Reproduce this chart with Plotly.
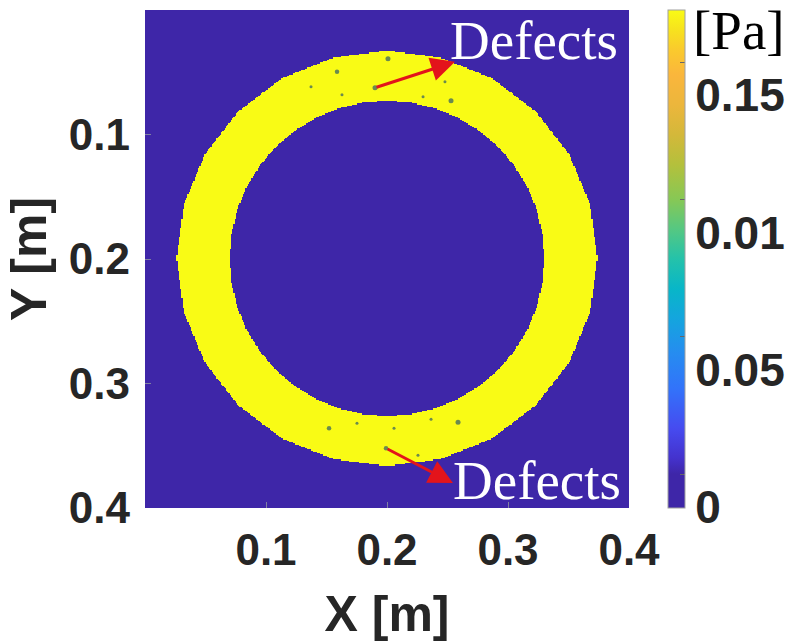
import numpy as np
import plotly.graph_objects as go

# Axis ticks
X_TICKS = [0.1, 0.2, 0.3, 0.4]
Y_TICKS = [0.1, 0.2, 0.3, 0.4]

# Colour bar ticks and their printed labels
CBAR_TICKVALS = [0, 0.05, 0.1, 0.15]
CBAR_TICKTEXT = ["0", "0.05", "0.01", "0.15"]
CBAR_MIN, CBAR_MAX = -0.0124, 0.1692

# Pressure field: annular region between two faceted ellipses
RING_CENTER = (0.2, 0.1995)
OUTER_RADII = (0.1735, 0.1665)
INNER_RADII = (0.1300, 0.1265)
OUTER_SIDES, INNER_SIDES = 24, 40
RING_PRESSURE = 0.1692
BACKGROUND_PRESSURE = 0.0

# Defect locations [m] and marker sizes
DEFECT_X = [0.2008, 0.1587, 0.1372, 0.1628, 0.1901, 0.2298, 0.2479, 0.2529,
            0.1521, 0.1752, 0.2058, 0.2364, 0.2587, 0.1992, 0.2256]
DEFECT_Y = [0.0392, 0.0496, 0.0616, 0.0680, 0.0624, 0.0696, 0.0576, 0.0728,
            0.3360, 0.3320, 0.3360, 0.3288, 0.3312, 0.3520, 0.3576]
DEFECT_SIZE = [5, 4.5, 3, 3, 5, 3, 3, 5,
               4.5, 3, 3, 3, 5, 4.5, 3]

# Callout arrows (tail at a defect, head near the label)
ARROW_TAIL = [(0.1901, 0.0624), (0.1992, 0.3520)]
ARROW_HEAD = [(0.2562, 0.0416), (0.2545, 0.3800)]
LABEL_POS = [(0.2505, 0.0245), (0.2525, 0.3780)]
LABEL_TEXT = "Defects"

# Parula-like colour map (flat dark band below zero pressure)
PARULA = [
    (0.000, "rgb(62,38,168)"), (0.068, "rgb(62,38,168)"),
    (0.100, "rgb(68,50,205)"), (0.160, "rgb(70,75,240)"),
    (0.240, "rgb(50,115,250)"), (0.310, "rgb(38,140,240)"),
    (0.380, "rgb(20,165,222)"), (0.440, "rgb(8,182,200)"),
    (0.500, "rgb(36,194,170)"), (0.560, "rgb(85,200,130)"),
    (0.620, "rgb(135,200,85)"), (0.690, "rgb(180,192,60)"),
    (0.750, "rgb(212,184,58)"), (0.810, "rgb(236,182,60)"),
    (0.870, "rgb(250,182,60)"), (0.920, "rgb(250,202,45)"),
    (0.960, "rgb(247,226,30)"), (1.000, "rgb(249,251,21)"),
]


def faceted_radius(dx, dy, radii, sides):
    """Normalised radius of a point relative to a regular polygon inscribed in an ellipse."""
    u, v = dx / radii[0], dy / radii[1]
    rho = np.hypot(u, v)
    theta = np.mod(np.arctan2(v, u) + np.pi / 2, 2 * np.pi / sides) - np.pi / sides
    return rho * np.cos(theta) / np.cos(np.pi / sides) * np.cos(np.pi / sides / 2)


step = 0.001
grid = np.arange(step / 2, 0.4, step)
gx, gy = np.meshgrid(grid, grid)
dx, dy = gx - RING_CENTER[0], gy - RING_CENTER[1]
r_out = faceted_radius(dx, dy, OUTER_RADII, OUTER_SIDES)
r_in = faceted_radius(dx, dy, INNER_RADII, INNER_SIDES)
pressure = np.where((r_out <= 1.0) & (r_in >= 1.0), RING_PRESSURE, BACKGROUND_PRESSURE)

tick_font = dict(family="Liberation Sans", size=44, color="#262626", weight="bold")
title_font = dict(family="Liberation Sans", size=50, color="#262626", weight="bold")

fig = go.Figure()
fig.add_trace(go.Heatmap(
    x=np.round(grid, 4), y=np.round(grid, 4), z=np.round(pressure, 4),
    colorscale=PARULA, zmin=CBAR_MIN, zmax=CBAR_MAX, zsmooth=False,
    hoverinfo="skip",
    colorbar=dict(
        x=1.0806, xanchor="left", xpad=0, y=0, yanchor="bottom", ypad=0,
        len=1, lenmode="fraction", thickness=17,
        outlinewidth=1, outlinecolor="#a0a0a0",
        ticks="inside", ticklen=5, tickcolor="#666666",
        tickvals=CBAR_TICKVALS, ticktext=CBAR_TICKTEXT,
        ticklabelposition="outside bottom",
        tickfont=dict(family="Liberation Sans", size=46, color="#262626", weight="bold"),
    ),
))
fig.add_trace(go.Scatter(
    x=DEFECT_X, y=DEFECT_Y, mode="markers",
    marker=dict(size=DEFECT_SIZE, color="#2d5a68", line=dict(width=0)),
    hoverinfo="skip", showlegend=False,
))

for (tx, ty), (hx, hy) in zip(ARROW_TAIL, ARROW_HEAD):
    fig.add_annotation(
        x=hx, y=hy, ax=tx, ay=ty, xref="x", yref="y", axref="x", ayref="y",
        text="", showarrow=True, arrowhead=2, arrowsize=1.6, arrowwidth=3,
        arrowcolor="#e3141b", standoff=0, startstandoff=0,
    )
for lx, ly in LABEL_POS:
    fig.add_annotation(
        x=lx, y=ly, xref="x", yref="y", text=LABEL_TEXT, showarrow=False,
        xanchor="left", yanchor="middle",
        font=dict(family="Liberation Serif", size=55, color="white"),
    )
fig.add_annotation(
    x=1.128, y=1, xref="paper", yref="paper", text="[Pa]", showarrow=False,
    xanchor="left", yanchor="top", yshift=12,
    font=dict(family="Liberation Serif", size=55, color="black"),
)

fig.update_xaxes(
    range=[0, 0.4], tickvals=X_TICKS, ticktext=[str(v) for v in X_TICKS],
    ticks="inside", ticklen=6, tickcolor="#8080a0", tickfont=tick_font,
    ticklabelstandoff=12, showgrid=False, zeroline=False, showline=False,
    title=dict(text="X [m]", font=title_font, standoff=23),
)
fig.update_yaxes(
    range=[0.4, 0], tickvals=Y_TICKS, ticktext=[str(v) for v in Y_TICKS],
    ticks="inside", ticklen=6, tickcolor="#8080a0", tickfont=tick_font,
    ticklabelstandoff=14, showgrid=False, zeroline=False, showline=False,
    title=dict(text="Y [m]", font=title_font, standoff=6),
)
fig.update_layout(
    width=792, height=642,
    margin=dict(l=145, r=163, t=10, b=134, autoexpand=False),
    paper_bgcolor="white", plot_bgcolor="rgb(62,38,168)",
    showlegend=False,
)

fig.write_html("out.html")
